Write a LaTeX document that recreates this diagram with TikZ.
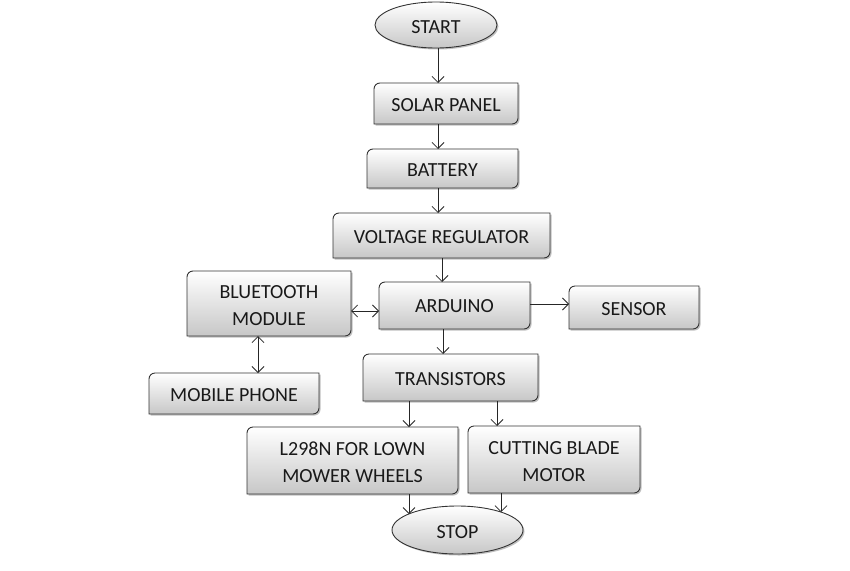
\documentclass[tikz,border=0pt]{standalone}
\usepackage{fontspec}
\setmainfont{Carlito}
\usetikzlibrary{arrows.meta,shapes.geometric,shadows}
\pgfdeclarelayer{bottom}
\pgfdeclarelayer{background}
\pgfsetlayers{bottom,background,main}
\tikzset{
 frame/.style={inner sep=0pt, outer sep=0pt},
 txt/.style={inner sep=0pt, outer sep=0pt, align=center, font=\fontsize{20}{27}\selectfont, text=black!90, yshift=-2pt},
 boxstyle/.style={top color=white, bottom color=black!22, draw=black!80, line width=0.9pt},
 shadowstyle/.style={fill=black!35, opacity=0.7},
 oval/.style={ellipse, frame, boxstyle, drop shadow={shadow xshift=1.5pt, shadow yshift=-1.5pt, fill=black!35, opacity=0.7}},
 arr/.style={draw=black!85, line width=0.8pt, -{Straight Barb[length=6pt,width=12pt]}},
 darr/.style={draw=black!85, line width=0.8pt, {Straight Barb[length=6pt,width=12pt]}-{Straight Barb[length=6pt,width=12pt]}},
}
\newcommand\drawdiagbox[1]{%
 \begin{pgfonlayer}{background}
 \fill[shadowstyle, transform canvas={shift={(1.5pt,-1.5pt)}}] ([xshift=6pt]#1.north west) -- (#1.north east) -- ([yshift=6pt]#1.south east) arc[start angle=0,end angle=-90,radius=6pt] -- (#1.south west) -- ([yshift=-6pt]#1.north west) arc[start angle=180,end angle=90,radius=6pt] -- cycle;
 \path[boxstyle] ([xshift=6pt]#1.north west) -- (#1.north east) -- ([yshift=6pt]#1.south east) arc[start angle=0,end angle=-90,radius=6pt] -- (#1.south west) -- ([yshift=-6pt]#1.north west) arc[start angle=180,end angle=90,radius=6pt] -- cycle;
 \end{pgfonlayer}}
\begin{document}
\begin{tikzpicture}[x=1pt,y=1pt]
\useasboundingbox (0,0) rectangle (850,-570);
\begin{pgfonlayer}{bottom}
\fill[white] (0,0) rectangle (850,-570);
\end{pgfonlayer}
% frames
\node[oval, minimum width=122pt, minimum height=46pt] (start) at (436,-25) {};
\node[frame, minimum width=144pt, minimum height=41pt] (solar) at (446,-103.5) {};
\node[frame, minimum width=151pt, minimum height=39pt] (battery) at (442.5,-168.5) {};
\node[frame, minimum width=217pt, minimum height=45pt] (vr) at (441.5,-235.5) {};
\node[frame, minimum width=164pt, minimum height=65pt] (bt) at (269,-303.5) {};
\node[frame, minimum width=151pt, minimum height=47pt] (arduino) at (454.5,-305.5) {};
\node[frame, minimum width=130pt, minimum height=43pt] (sensor) at (634,-307.5) {};
\node[frame, minimum width=170pt, minimum height=41pt] (mobile) at (234,-393.5) {};
\node[frame, minimum width=175pt, minimum height=47pt] (trans) at (450.5,-377.5) {};
\node[frame, minimum width=211pt, minimum height=67pt] (l298) at (352.5,-460.5) {};
\node[frame, minimum width=172pt, minimum height=67pt] (cut) at (554,-459.5) {};
\node[oval, minimum width=131pt, minimum height=48pt] (stop) at (457.5,-530) {};
\drawdiagbox{solar}
\drawdiagbox{battery}
\drawdiagbox{vr}
\drawdiagbox{bt}
\drawdiagbox{arduino}
\drawdiagbox{sensor}
\drawdiagbox{mobile}
\drawdiagbox{trans}
\drawdiagbox{l298}
\drawdiagbox{cut}
% texts
\node[txt] (start-t) at (start) {START};
\node[txt] (solar-t) at (solar) {SOLAR PANEL};
\node[txt] (battery-t) at (battery) {BATTERY};
\node[txt] (vr-t) at (vr) {VOLTAGE REGULATOR};
\node[txt] (bt-t) at (bt) {BLUETOOTH\\MODULE};
\node[txt, yshift=1.5pt] (arduino-t) at (arduino) {ARDUINO};
\node[txt] (sensor-t) at (sensor) {SENSOR};
\node[txt] (mobile-t) at (mobile) {MOBILE PHONE};
\node[txt] (trans-t) at (trans) {TRANSISTORS};
\node[txt] (l298-t) at (l298) {L298N FOR LOWN\\MOWER WHEELS};
\node[txt] (cut-t) at (cut) {CUTTING BLADE\\MOTOR};
\node[txt] (stop-t) at (stop) {STOP};
% helper coordinates
\coordinate (x438) at (438,0);
\coordinate (x442) at (442,0);
\coordinate (x443) at (443,0);
\coordinate (x258) at (258,0);
\coordinate (x409) at (409,0);
\coordinate (x497) at (497,0);
\coordinate (x501) at (501,0);
\coordinate (y311) at (0,-311);
\coordinate (y304) at (0,-304);
% connectors
\draw[arr] (x438 |- start.south) -- (x438 |- solar.north);
\draw[arr] (x438 |- solar.south) -- (x438 |- battery.north);
\draw[arr] (x438 |- battery.south) -- (x438 |- vr.north);
\draw[arr] (x442 |- vr.south) -- (x442 |- arduino.north);
\draw[darr] (bt.east |- y311) -- (arduino.west |- y311);
\draw[arr] (arduino.east |- y304) -- (sensor.west |- y304);
\draw[darr] (x258 |- bt.south) -- (x258 |- mobile.north);
\draw[arr] (x443 |- arduino.south) -- (x443 |- trans.north);
\draw[arr] (x409 |- trans.south) -- (x409 |- l298.north);
\draw[arr] (x497 |- trans.south) -- (x497 |- cut.north);
\draw[arr] (x409 |- l298.south) -- (x409 |- stop.162);
\draw[arr] (x501 |- cut.south) -- (x501 |- stop.22.5);
\end{tikzpicture}
\end{document}
